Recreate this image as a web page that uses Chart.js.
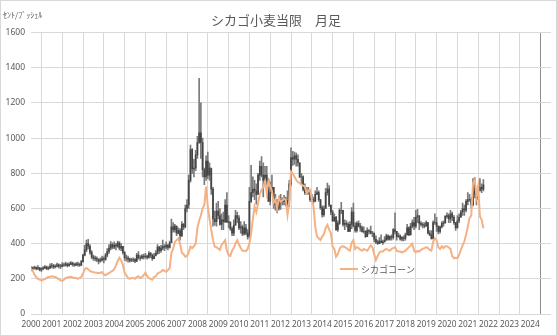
<!DOCTYPE html>
<html>
<head>
<meta charset="utf-8">
<script src="https://cdn.jsdelivr.net/npm/chart.js@4.4.1/dist/chart.umd.min.js"></script>
<style>
  html, body { margin: 0; padding: 0; background: #fff; }
</style>
</head>
<body>
<canvas id="myChart" width="557" height="336"></canvas>
<script>
// monthly, Jan 2000 .. Oct 2021 (cents / bushel)
var wheatClose = [
  258,262,265,258,262,250,258,262,268,258,262,272,
  275,268,272,280,272,270,280,278,285,275,282,290,
  282,278,285,282,278,298,335,365,400,385,350,325,
  318,315,310,300,308,315,310,335,355,375,395,380,
  392,385,405,375,385,350,320,318,312,305,308,310,
  300,335,320,318,330,325,330,322,345,335,315,330,
  345,380,360,375,385,380,392,378,405,495,480,500,
  460,475,445,510,495,600,620,760,935,825,830,905,
  975,1030,975,820,780,870,790,830,710,540,525,585,
  560,510,535,525,620,525,520,485,460,505,560,545,
  490,495,455,490,460,440,640,690,710,700,680,790,
  840,790,760,790,760,640,690,720,620,640,600,650,
  645,640,655,620,645,740,890,880,900,880,860,780,
  780,710,690,700,700,650,650,640,680,690,650,605,
  565,600,690,710,620,580,530,550,480,515,590,590,
  510,515,510,470,510,580,500,475,515,500,490,470,
  470,440,475,470,460,460,425,410,400,415,405,410,
  420,445,425,440,435,480,470,440,445,425,435,430,
  450,490,450,500,520,500,550,560,515,510,505,500,
  520,460,450,430,520,520,500,470,495,515,520,555,
  560,540,570,550,520,490,530,550,580,600,590,640,
  650,650,620,740,680,660,700,720,710,735
];
var wheatHigh = [
  270,268,272,268,275,265,262,270,275,272,270,285,
  288,282,280,290,285,282,292,290,295,290,292,298,
  295,290,292,295,290,305,340,390,420,425,395,360,
  335,330,325,315,320,330,325,345,372,395,412,405,
  410,402,415,412,400,385,355,335,330,318,318,320,
  315,345,355,332,338,340,345,335,355,350,340,345,
  360,395,385,390,420,395,410,395,415,540,520,510,
  500,490,485,525,515,620,650,790,960,940,880,930,
  1010,1340,1200,1000,830,900,920,860,820,720,585,630,
  640,600,570,580,650,690,560,525,495,535,590,580,
  560,525,505,525,510,480,720,845,780,760,740,800,
  870,895,860,840,840,770,750,790,720,680,650,670,
  680,660,675,665,700,760,945,925,920,915,905,860,
  800,785,740,720,720,700,680,665,700,720,700,650,
  615,615,715,745,730,620,590,570,555,530,600,635,
  590,535,530,520,525,605,630,520,525,530,515,500,
  495,475,490,480,500,470,460,445,420,435,450,420,
  440,455,450,445,450,485,575,470,460,450,440,445,
  460,510,495,515,535,550,590,595,535,525,520,520,
  530,520,475,475,530,570,550,500,500,525,530,560,
  575,570,590,580,560,520,560,570,590,630,620,650,
  690,680,660,770,775,690,730,770,740,765
];
var wheatLow = [
  245,250,255,250,252,245,242,250,258,252,250,258,
  262,258,262,268,262,258,268,270,272,268,272,280,
  272,270,275,272,270,275,295,330,355,370,340,315,
  305,302,298,285,295,300,290,305,325,345,365,370,
  372,365,378,365,360,340,305,300,295,295,298,298,
  292,298,312,305,315,312,318,312,318,320,305,315,
  335,340,345,350,365,360,370,365,375,405,465,465,
  445,455,420,440,480,490,580,600,750,800,780,815,
  885,970,885,780,735,760,770,760,680,500,505,500,
  540,505,480,480,520,520,490,475,445,445,505,520,
  480,460,445,450,450,425,430,635,665,650,625,680,
  760,780,665,740,735,640,620,690,600,590,575,590,
  595,620,620,615,600,610,730,845,850,840,840,775,
  735,700,680,680,680,640,640,630,640,680,640,595,
  550,555,600,675,610,565,525,525,475,470,510,570,
  500,480,495,468,470,485,495,465,465,495,470,465,
  460,435,440,455,455,440,410,400,395,400,405,395,
  410,420,420,420,420,425,455,420,435,420,415,415,
  420,450,445,450,490,480,490,520,480,500,490,490,
  500,455,445,425,425,510,470,455,460,490,500,515,
  545,520,520,530,510,475,490,520,550,560,560,580,
  620,640,600,615,660,620,650,700,690,700
];
var wheatFirstOpen = 255;

var corn = [
  258,245,225,210,200,195,190,195,198,205,210,212,
  215,212,210,205,198,192,188,195,205,208,210,212,
  208,205,205,200,205,210,230,255,262,255,245,240,
  238,236,235,232,235,238,225,220,228,232,240,245,
  255,275,300,320,305,280,235,220,205,200,205,205,
  200,210,215,205,210,220,235,215,205,200,195,210,
  215,230,235,240,250,245,240,250,260,347,370,410,
  420,430,400,350,340,326,330,350,383,375,385,400,
  490,530,560,600,620,725,611,540,478,420,383,380,
  372,365,395,405,420,360,335,330,360,375,400,420,
  395,375,360,360,358,370,400,460,540,611,580,630,
  680,706,720,753,688,753,725,700,632,650,600,660,
  640,645,655,650,564,640,810,800,780,763,750,745,
  735,730,725,688,700,706,650,611,497,440,431,421,
  440,455,490,507,480,460,383,370,326,340,370,383,
  385,380,375,365,360,405,421,370,380,375,365,360,
  370,365,360,375,390,380,340,307,330,350,355,355,
  365,370,365,360,370,375,380,360,355,355,350,355,
  360,370,380,390,400,360,350,360,355,365,370,375,
  380,375,365,360,410,431,420,380,370,385,375,385,
  385,378,370,330,317,320,317,336,365,390,412,450,
  497,545,560,744,763,668,725,554,535,488
];

var yearFrom = 2000;
var yearTo = 2025;
var titleText = 'シカゴ小麦当限　月足';
var unitText = 'ｾﾝﾄ/ﾌﾞｯｼｪﾙ';
var cornLabel = 'シカゴコーン';

var textColor = '#595959';
var gridColor = '#d9d9d9';
var cornColor = '#f4b183';
var font = "'Noto Sans CJK JP', 'Noto Sans', sans-serif";
var numFont = "'Noto Sans', sans-serif";

var months = wheatClose.map(function (v, i) { return yearFrom + i / 12; });
var wickData = months.map(function (x, i) { return { x: x, y: [wheatLow[i], wheatHigh[i]] }; });
var bodyData = months.map(function (x, i) {
  var open = i === 0 ? wheatFirstOpen : wheatClose[i - 1];
  return { x: x, y: [open, wheatClose[i]] };
});
var cornData = months.map(function (x, i) { return { x: x, y: corn[i] }; });

var extras = {
  id: 'extras',
  beforeDraw: function (chart) {
    var c = chart.ctx;
    c.save();
    c.fillStyle = '#fff';
    c.fillRect(0, 0, chart.width, chart.height);
    c.restore();
  },
  afterDraw: function (chart) {
    var c = chart.ctx;
    c.save();
    // outer frame
    c.strokeStyle = '#d9d9d9';
    c.lineWidth = 1;
    c.strokeRect(0.5, 0.5, chart.width - 1, chart.height - 1);
    // unit label
    c.fillStyle = textColor;
    c.font = '8px ' + font;
    c.textBaseline = 'middle';
    c.textAlign = 'left';
    c.fillText(unitText, 3, 15);
    // legend (corn only)
    c.strokeStyle = cornColor;
    c.lineWidth = 2;
    c.beginPath();
    c.moveTo(340, 269);
    c.lineTo(358, 269);
    c.stroke();
    c.font = '9px ' + font;
    c.fillText(cornLabel, 361, 269.5);
    c.restore();
  }
};

var ctx = document.getElementById('myChart');
var myChart = new Chart(ctx, {
  type: 'bar',
  data: {
    datasets: [{
      type: 'line',
      label: cornLabel,
      data: cornData,
      borderColor: cornColor,
      borderWidth: 2,
      pointRadius: 0,
      tension: 0,
      order: 0
    }, {
      label: 'body',
      data: bodyData,
      backgroundColor: '#444444',
      barThickness: 1,
      grouped: false,
      order: 1
    }, {
      label: 'wick',
      data: wickData,
      backgroundColor: '#7a7a7a',
      barThickness: 1,
      grouped: false,
      order: 2
    }]
  },
  options: {
    responsive: false,
    animation: false,
    devicePixelRatio: 1,
    layout: { padding: { left: 0, right: 5, top: 0, bottom: 0 } },
    plugins: {
      legend: { display: false },
      tooltip: { enabled: false },
      title: {
        display: true,
        text: titleText,
        color: textColor,
        font: { family: font, size: 13, weight: 'normal' },
        padding: { top: 12, bottom: 5 }
      }
    },
    scales: {
      x: {
        type: 'linear',
        min: yearFrom,
        max: yearTo,
        offset: false,
        border: { display: false },
        grid: {
          drawTicks: false,
          color: function (c) {
            if (c.tick && (c.tick.value === yearFrom || c.tick.value === yearTo)) return '#8c8c8c';
            return gridColor;
          }
        },
        ticks: {
          stepSize: 1,
          autoSkip: false,
          maxRotation: 0,
          padding: 6,
          color: textColor,
          font: { family: numFont, size: 8.3 },
          callback: function (v) { return v === yearTo ? '' : String(v); }
        },
        afterFit: function (s) { s.height = 22; }
      },
      y: {
        min: 0,
        max: 1600,
        border: { display: false },
        grid: { drawTicks: false, color: gridColor },
        ticks: {
          stepSize: 200,
          padding: 6,
          color: textColor,
          font: { family: numFont, size: 8.5 },
          callback: function (v) { return String(v); }
        },
        afterFit: function (s) { s.width = 31; }
      }
    }
  },
  plugins: [extras]
});
</script>
</body>
</html>
